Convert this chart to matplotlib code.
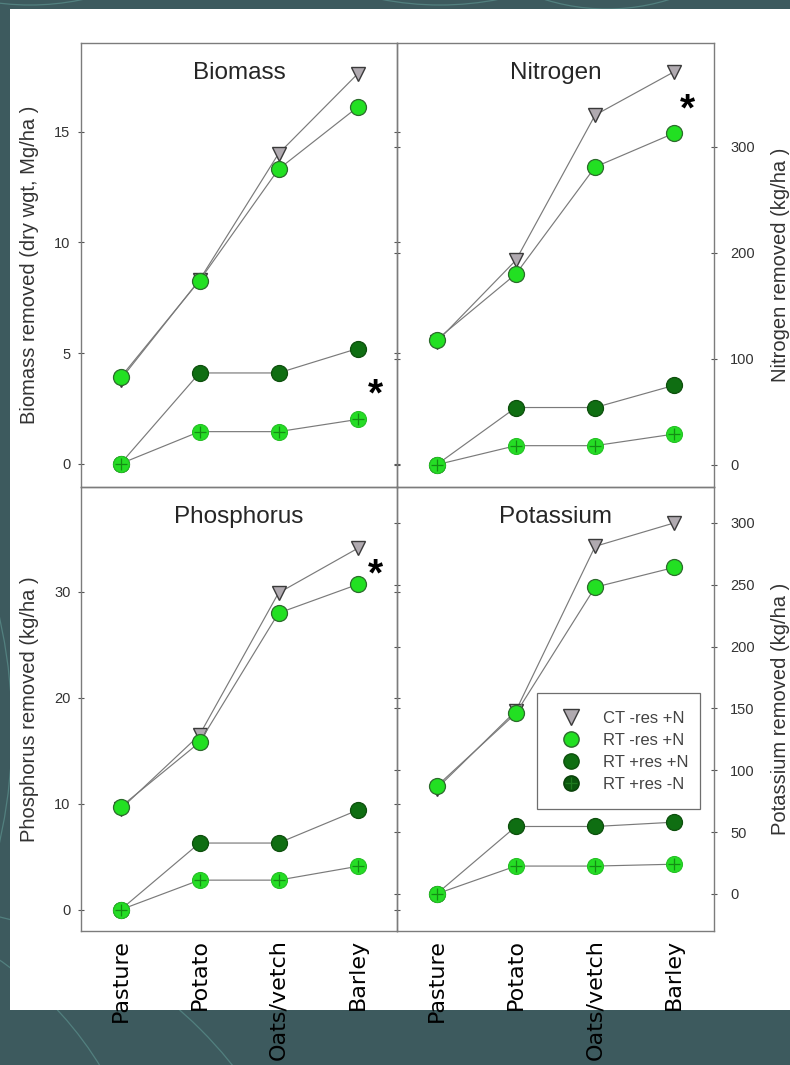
import numpy as np
import matplotlib.pyplot as plt
from matplotlib.lines import Line2D
from matplotlib.patches import Rectangle, Circle

plt.rcParams['font.family'] = ['Liberation Sans', 'DejaVu Sans']

# crop sequence and treatments
crops = ['Pasture', 'Potato', 'Oats/vetch', 'Barley']
treatments = ['CT -res +N', 'RT -res +N', 'RT +res +N', 'RT +res -N']

# biomass removed (dry wgt, Mg/ha)
biomass_ct = [3.8, 8.3, 14.0, 17.6]
biomass_rt = [3.9, 8.27, 13.3, 16.1]
biomass_rt_res = [0.0, 4.1, 4.1, 5.2]
biomass_rt_res_noN = [0.0, 1.45, 1.45, 2.0]

# nitrogen removed (kg/ha)
nitrogen_ct = [116, 193, 330, 371]
nitrogen_rt = [118, 180, 281, 313]
nitrogen_rt_res = [0, 54, 54, 75]
nitrogen_rt_res_noN = [0, 18, 18, 29]

# phosphorus removed (kg/ha)
phosphorus_ct = [9.5, 16.5, 29.9, 34.1]
phosphorus_rt = [9.7, 15.8, 28.0, 30.7]
phosphorus_rt_res = [0.0, 6.3, 6.3, 9.4]
phosphorus_rt_res_noN = [0.0, 2.8, 2.8, 4.1]

# potassium removed (kg/ha)
potassium_ct = [85, 148, 281, 300]
potassium_rt = [87, 146, 248, 264]
potassium_rt_res = [0, 54.5, 54.5, 58]
potassium_rt_res_noN = [0, 22.5, 22.5, 24]

BG = '#3d5a5e'
W, H = 790, 1065

fig = plt.figure(figsize=(W / 100, H / 100), dpi=100, facecolor=BG)


def box(x0, y0, x1, y1):
    return [x0 / W, 1 - y1 / H, (x1 - x0) / W, (y1 - y0) / H]


# faint arcs on the slide background
for cx, cy, r in [(-200, 1250, 352), (-100, 1330, 425), (607, -200, 209),
                  (-500, 730, 512), (440, -300, 305), (30, -250, 255)]:
    fig.patches.append(Circle((cx / 100, (H - cy) / 100), r / 100, fill=False,
                              edgecolor='#52807f', lw=0.9,
                              transform=fig.dpi_scale_trans, zorder=-5))
fig.patches.append(Rectangle((10 / W, 1 - 1010 / H), 780 / W, 1001 / H,
                             transform=fig.transFigure, facecolor='white',
                             edgecolor='none', zorder=-4))

x = np.arange(len(crops))

panels = [
    dict(rect=box(81, 43, 397, 487), title='Biomass', side='left',
         ylabel='Biomass removed (dry wgt, Mg/ha )', ylim=(-1.05, 19.0),
         yticks=[0, 5, 10, 15],
         data=[biomass_ct, biomass_rt, biomass_rt_res, biomass_rt_res_noN],
         star=(3.23, 3.07)),
    dict(rect=box(397, 43, 714, 487), title='Nitrogen', side='right',
         ylabel='Nitrogen removed (kg/ha )', ylim=(-21, 398),
         yticks=[0, 100, 200, 300],
         data=[nitrogen_ct, nitrogen_rt, nitrogen_rt_res, nitrogen_rt_res_noN],
         star=(3.17, 334)),
    dict(rect=box(81, 487, 397, 931), title='Phosphorus', side='left',
         ylabel='Phosphorus removed (kg/ha )', ylim=(-2.0, 39.9),
         yticks=[0, 10, 20, 30],
         data=[phosphorus_ct, phosphorus_rt, phosphorus_rt_res, phosphorus_rt_res_noN],
         star=(3.23, 31.55)),
    dict(rect=box(397, 487, 714, 931), title='Potassium', side='right',
         ylabel='Potassium removed (kg/ha )', ylim=(-30, 329),
         yticks=[0, 50, 100, 150, 200, 250, 300],
         data=[potassium_ct, potassium_rt, potassium_rt_res, potassium_rt_res_noN],
         star=None),
]

line_kw = dict(color='#7a7a7a', lw=0.85)
ms = 11.5

for i, p in enumerate(panels):
    ax = fig.add_axes(p['rect'])
    ax.set_facecolor('none')
    ct, rt, rt_res, rt_nn = p['data']

    ax.plot(x, ct, marker='v', ms=10.5, mfc='#b0aab0', mec='#3a3a3a', mew=1.0, **line_kw)
    ax.plot(x, rt, marker='o', ms=ms, mfc='#22e022', mec='#2c6b2c', mew=0.9, **line_kw)
    ax.plot(x, rt_res, marker='o', ms=ms, mfc='#0f6e12', mec='#0d4f0d', mew=0.9, **line_kw)
    ax.plot(x, rt_nn, marker='o', ms=ms, mfc='#25dd25', mec='#25c025', mew=0.8, **line_kw)
    ax.plot(x, rt_nn, ls='none', marker='+', ms=8, mec='#148c14', mew=0.9)

    ax.set_xlim(-0.5, 3.5)
    ax.set_ylim(*p['ylim'])
    ax.set_yticks(p['yticks'])
    ax.set_xticks(x)
    if i >= 2:
        ax.set_xticklabels(crops, rotation=90, fontsize=16, color='black',
                           family='DejaVu Sans')
    else:
        ax.set_xticklabels([])
    ax.tick_params(axis='x', length=0, pad=6)

    ax.tick_params(axis='y', direction='inout', length=5, width=0.8,
                   color='#555555', labelsize=10.5, labelcolor='#333333',
                   left=True, right=True)
    if p['side'] == 'left':
        ax.tick_params(axis='y', labelleft=True, labelright=False, pad=5)
        lx = (30 - 81) / 316
    else:
        ax.tick_params(axis='y', labelleft=False, labelright=True, pad=9)
        lx = (780 - 397) / 317
    ax.text(lx, 0.5, p['ylabel'], transform=ax.transAxes, rotation=90,
            ha='center', va='center', fontsize=14.5, color='#333333')

    for s in ax.spines.values():
        s.set_color('#7c7c7c')
        s.set_linewidth(1.0)

    ax.text(0.5, 0.932, p['title'], transform=ax.transAxes, ha='center',
            va='center', fontsize=17.5, color='#262626')
    if p['star'] is not None:
        ax.text(p['star'][0], p['star'][1], '*', ha='center', va='center',
                fontsize=28, fontweight='bold', color='black')

    if i == 3:
        handles = [
            Line2D([], [], ls='none', marker='v', ms=11, mfc='#b0aab0', mec='#3a3a3a'),
            Line2D([], [], ls='none', marker='o', ms=11, mfc='#22e022', mec='#2c6b2c'),
            Line2D([], [], ls='none', marker='o', ms=11, mfc='#0f6e12', mec='#0d4f0d'),
            (Line2D([], [], ls='none', marker='o', ms=11, mfc='#0b560d', mec='#083f08'),
             Line2D([], [], ls='none', marker='+', ms=8, mec='#1e7a1e', mew=0.9)),
        ]
        leg = ax.legend(handles, treatments, loc='upper left',
                        bbox_to_anchor=(0.442, 0.279, 0.514, 0.257), mode='expand',
                        fontsize=12, handlelength=2.0, handletextpad=0.9,
                        labelspacing=0.42, borderpad=1.05, fancybox=False,
                        framealpha=1, edgecolor='#6e6e6e', borderaxespad=0)
        leg.get_frame().set_linewidth(0.9)
        for t in leg.get_texts():
            t.set_color('#444444')

fig.savefig('out.png', dpi=100, facecolor=BG)
